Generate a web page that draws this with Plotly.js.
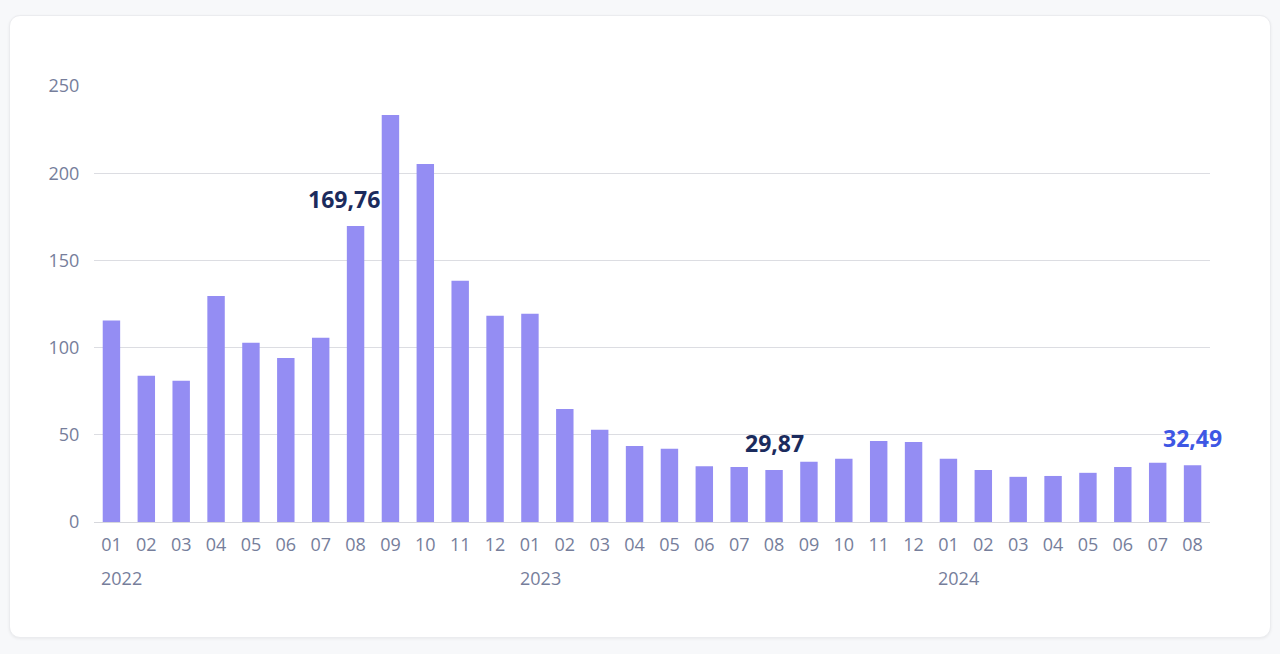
<!DOCTYPE html>
<html>
<head>
<meta charset="utf-8">
<script src="https://cdn.plot.ly/plotly-3.0.1.min.js"></script>
<style>
  html, body { margin: 0; padding: 0; background: #f7f8fa; width: 1280px; height: 654px; overflow: hidden; }
  #card { position: absolute; left: 9px; top: 15px; width: 1260px; height: 621px; background: #ffffff;
          border: 1px solid #ebecef; border-radius: 11px; box-shadow: 0 1px 3px rgba(0,0,0,0.06); }
  #chart { position: absolute; left: 0; top: 0; width: 1280px; height: 654px; }
</style>
</head>
<body>
<div id="card"></div>
<div id="chart"></div>
<script>
const categories = [
  "2022-01","2022-02","2022-03","2022-04","2022-05","2022-06","2022-07","2022-08","2022-09","2022-10","2022-11","2022-12",
  "2023-01","2023-02","2023-03","2023-04","2023-05","2023-06","2023-07","2023-08","2023-09","2023-10","2023-11","2023-12",
  "2024-01","2024-02","2024-03","2024-04","2024-05","2024-06","2024-07","2024-08"
];
const monthLabels = [
  "01","02","03","04","05","06","07","08","09","10","11","12",
  "01","02","03","04","05","06","07","08","09","10","11","12",
  "01","02","03","04","05","06","07","08"
];
const values = [
  115.5, 83.8, 81.0, 129.6, 102.8, 94.0, 105.7, 169.76, 233.4, 205.3, 138.3, 118.2,
  119.4, 64.8, 52.9, 43.6, 42.0, 32.0, 31.6, 29.87, 34.6, 36.2, 46.5, 45.9,
  36.2, 29.8, 25.9, 26.4, 28.2, 31.6, 34.0, 32.49
];
const yearLabels = ["2022", "2023", "2024"];
const yearStarts = ["2022-01", "2023-01", "2024-01"];
const highlightCats = ["2022-08", "2023-08", "2024-08"];
const highlightText = ["169,76", "29,87", "32,49"];
const highlightColors = ["#1b2b5d", "#1b2b5d", "#3e57e4"];
const highlightShift = [-12, 0, 0];
const yTicks = [0, 50, 100, 150, 200, 250];

const font = "'Open Sans', 'Noto Sans', sans-serif";
const tickColor = "#767e9b";

const annotations = [];
yearLabels.forEach((y, i) => {
  annotations.push({
    x: yearStarts[i], y: 0, xref: "x", yref: "y", text: y, showarrow: false,
    xanchor: "left", yanchor: "top", xshift: -12, yshift: -42,
    font: { family: font, size: 18, color: tickColor }
  });
});
highlightCats.forEach((c, i) => {
  const v = values[categories.indexOf(c)];
  annotations.push({
    x: c, y: v, xref: "x", yref: "y", text: "<b>" + highlightText[i] + "</b>", showarrow: false,
    xanchor: "center", yanchor: "bottom", xshift: highlightShift[i], yshift: 9,
    font: { family: font, size: 23, color: highlightColors[i] }
  });
});

Plotly.newPlot("chart", [{
  type: "bar",
  x: categories,
  y: values,
  marker: { color: "#948df3" },
  width: 0.5,
  hoverinfo: "x+y"
}], {
  width: 1280, height: 654,
  margin: { l: 94, r: 70, t: 86, b: 132 },
  paper_bgcolor: "rgba(0,0,0,0)",
  plot_bgcolor: "rgba(0,0,0,0)",
  showlegend: false,
  bargap: 0.5,
  xaxis: {
    type: "category",
    range: [-0.5, categories.length - 0.5],
    autorange: false,
    tickvals: categories,
    ticktext: monthLabels,
    tickfont: { family: font, size: 18, color: tickColor },
    showgrid: false,
    zeroline: false,
    showline: true,
    linecolor: "#d6d7dc",
    linewidth: 1,
    ticks: "outside",
    ticklen: 6,
    tickcolor: "rgba(0,0,0,0)",
    fixedrange: true
  },
  yaxis: {
    range: [0, 250],
    autorange: false,
    tickvals: yTicks,
    tickfont: { family: font, size: 18, color: tickColor },
    gridcolor: "#dcdde2",
    gridwidth: 1,
    zeroline: false,
    showline: false,
    ticks: "outside",
    ticklen: 10,
    tickcolor: "rgba(0,0,0,0)",
    fixedrange: true
  },
  annotations: annotations
}, { displayModeBar: false, staticPlot: true });
</script>
</body>
</html>
